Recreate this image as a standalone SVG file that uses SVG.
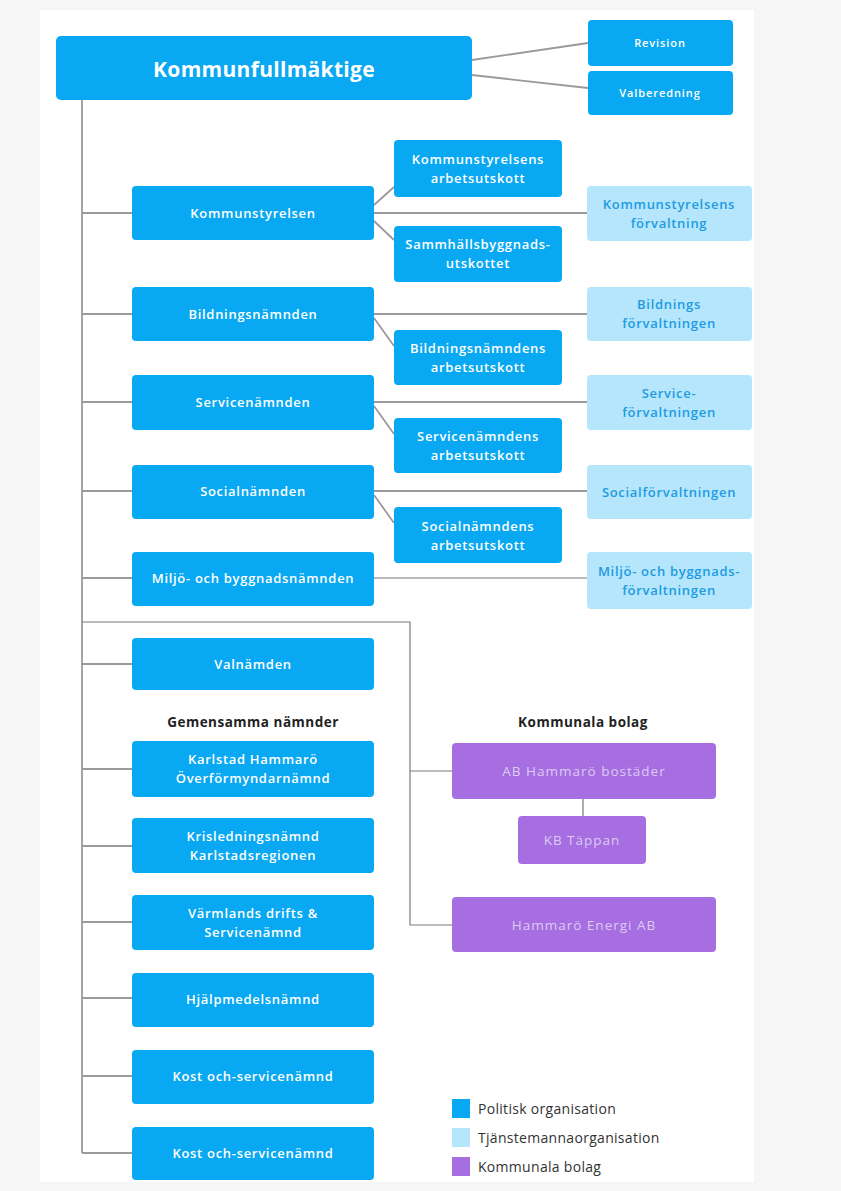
<svg xmlns="http://www.w3.org/2000/svg" width="841" height="1191" viewBox="0 0 841 1191">
<style>
.pol{fill:#08a8f2}
.tj{fill:#b5e6fb}
.bol{fill:#a66ee0}
.t{font-family:"Open Sans","Liberation Sans",sans-serif;font-size:13px;font-weight:600;letter-spacing:0.7px;text-anchor:middle}
.tw{fill:#ffffff}
.tb{fill:#1c9be4}
.tp{fill:#dccbf5;font-weight:400;font-size:13.5px;letter-spacing:1px}
.hd{font-family:"Open Sans","Liberation Sans",sans-serif;font-size:13.5px;font-weight:700;letter-spacing:0.5px;fill:#222;text-anchor:middle}
.lg{font-family:"Open Sans","Liberation Sans",sans-serif;font-size:14px;letter-spacing:0.3px;fill:#333}
.c{stroke:#9a9a9a;stroke-width:1.8;fill:none}
.c2{stroke:#7a7a7a;stroke-width:1.2;fill:none}
</style>
<rect width="841" height="1191" fill="#f6f6f6"/>
<rect x="40" y="10" width="714" height="1172" fill="#ffffff"/>
<g id="connectors">
<path class="c" d="M472 60 L588 43 M472 75 L588 88"/>
<path class="c" d="M82 100 V1153"/>
<path class="c" d="M82 213 H132 M82 314 H132 M82 402 H132 M82 491 H132 M82 578 H132 M82 664 H132 M82 769 H132 M82 846 H132 M82 922 H132 M82 998 H132 M82 1076 H132 M82 1153 H132"/>
<path class="c" d="M374 213 H587 M374 205 L394 187 M374 221 L394 240"/>
<path class="c" d="M374 314 H587 M374 318 L394 346"/>
<path class="c" d="M374 402 H587 M374 406 L394 434"/>
<path class="c" d="M374 491 H587 M374 495 L394 523"/>
<path class="c2" d="M374 578 H587"/>
<path class="c2" d="M82 622 H410 V925 H452 M410 771 H452 M583 799 V816"/>
</g>
<g id="kf"><rect class="pol" x="56" y="36" width="416" height="64" rx="5"/><text class="t tw" x="264" y="77" style="font-size:21px;font-weight:700;letter-spacing:0.3px">Kommunfullmäktige</text></g>
<g id="revision"><rect class="pol" x="588" y="20" width="145" height="46" rx="4"/><text class="t tw" x="660" y="47" style="font-size:11px;letter-spacing:0.9px">Revision</text></g>
<g id="valberedning"><rect class="pol" x="588" y="71" width="145" height="44" rx="4"/><text class="t tw" x="660" y="97" style="font-size:11px;letter-spacing:0.9px">Valberedning</text></g>
<g id="ks"><rect class="pol" x="132" y="186" width="242" height="54" rx="4"/><text class="t tw" x="253" y="218">Kommunstyrelsen</text></g>
<g id="ksau"><rect class="pol" x="394" y="140" width="168" height="57" rx="4"/><text class="t tw" x="478" y="164">Kommunstyrelsens</text><text class="t tw" x="478" y="183">arbetsutskott</text></g>
<g id="sbu"><rect class="pol" x="394" y="226" width="168" height="56" rx="4"/><text class="t tw" x="478" y="249">Sammhällsbyggnads-</text><text class="t tw" x="478" y="268">utskottet</text></g>
<g id="ksf"><rect class="tj" x="587" y="186" width="165" height="55" rx="4"/><text class="t tb" x="669" y="209">Kommunstyrelsens</text><text class="t tb" x="669" y="228">förvaltning</text></g>
<g id="bn"><rect class="pol" x="132" y="287" width="242" height="54" rx="4"/><text class="t tw" x="253" y="319">Bildningsnämnden</text></g>
<g id="bf"><rect class="tj" x="587" y="287" width="165" height="54" rx="4"/><text class="t tb" x="669" y="309">Bildnings</text><text class="t tb" x="669" y="328">förvaltningen</text></g>
<g id="bnau"><rect class="pol" x="394" y="330" width="168" height="55" rx="4"/><text class="t tw" x="478" y="353">Bildningsnämndens</text><text class="t tw" x="478" y="372">arbetsutskott</text></g>
<g id="sn"><rect class="pol" x="132" y="375" width="242" height="55" rx="4"/><text class="t tw" x="253" y="407">Servicenämnden</text></g>
<g id="sf"><rect class="tj" x="587" y="375" width="165" height="55" rx="4"/><text class="t tb" x="669" y="398">Service-</text><text class="t tb" x="669" y="417">förvaltningen</text></g>
<g id="snau"><rect class="pol" x="394" y="418" width="168" height="55" rx="4"/><text class="t tw" x="478" y="441">Servicenämndens</text><text class="t tw" x="478" y="460">arbetsutskott</text></g>
<g id="soc"><rect class="pol" x="132" y="465" width="242" height="54" rx="4"/><text class="t tw" x="253" y="496">Socialnämnden</text></g>
<g id="socf"><rect class="tj" x="587" y="465" width="165" height="54" rx="4"/><text class="t tb" x="669" y="497">Socialförvaltningen</text></g>
<g id="socau"><rect class="pol" x="394" y="507" width="168" height="56" rx="4"/><text class="t tw" x="478" y="531">Socialnämndens</text><text class="t tw" x="478" y="550">arbetsutskott</text></g>
<g id="mbn"><rect class="pol" x="132" y="552" width="242" height="54" rx="4"/><text class="t tw" x="253" y="583">Miljö- och byggnadsnämnden</text></g>
<g id="mbf"><rect class="tj" x="587" y="552" width="165" height="57" rx="4"/><text class="t tb" x="669" y="576">Miljö- och byggnads-</text><text class="t tb" x="669" y="595">förvaltningen</text></g>
<g id="valn"><rect class="pol" x="132" y="638" width="242" height="52" rx="4"/><text class="t tw" x="253" y="669">Valnämden</text></g>
<text class="hd" x="253" y="727">Gemensamma nämnder</text>
<text class="hd" x="583" y="727">Kommunala bolag</text>
<g id="khon"><rect class="pol" x="132" y="741" width="242" height="56" rx="4"/><text class="t tw" x="253" y="764">Karlstad Hammarö</text><text class="t tw" x="253" y="783">Överförmyndarnämnd</text></g>
<g id="krn"><rect class="pol" x="132" y="818" width="242" height="55" rx="4"/><text class="t tw" x="253" y="841">Krisledningsnämnd</text><text class="t tw" x="253" y="860">Karlstadsregionen</text></g>
<g id="vds"><rect class="pol" x="132" y="895" width="242" height="55" rx="4"/><text class="t tw" x="253" y="918">Värmlands drifts &amp;</text><text class="t tw" x="253" y="937">Servicenämnd</text></g>
<g id="hjm"><rect class="pol" x="132" y="973" width="242" height="54" rx="4"/><text class="t tw" x="253" y="1004">Hjälpmedelsnämnd</text></g>
<g id="kos1"><rect class="pol" x="132" y="1050" width="242" height="54" rx="4"/><text class="t tw" x="253" y="1081">Kost och-servicenämnd</text></g>
<g id="kos2"><rect class="pol" x="132" y="1127" width="242" height="53" rx="4"/><text class="t tw" x="253" y="1158">Kost och-servicenämnd</text></g>
<g id="abhb"><rect class="bol" x="452" y="743" width="264" height="56" rx="4"/><text class="t tp" x="584" y="776">AB Hammarö bostäder</text></g>
<g id="kbt"><rect class="bol" x="518" y="816" width="128" height="48" rx="4"/><text class="t tp" x="582" y="845">KB Täppan</text></g>
<g id="hea"><rect class="bol" x="452" y="897" width="264" height="55" rx="4"/><text class="t tp" x="584" y="930">Hammarö Energi AB</text></g>
<g id="legend">
<rect class="pol" x="452" y="1099" width="18" height="19"/><text class="lg" x="478" y="1114">Politisk organisation</text>
<rect class="tj" x="452" y="1128" width="18" height="19"/><text class="lg" x="478" y="1143">Tjänstemannaorganisation</text>
<rect class="bol" x="452" y="1157" width="18" height="19"/><text class="lg" x="478" y="1172">Kommunala bolag</text>
</g>
</svg>
